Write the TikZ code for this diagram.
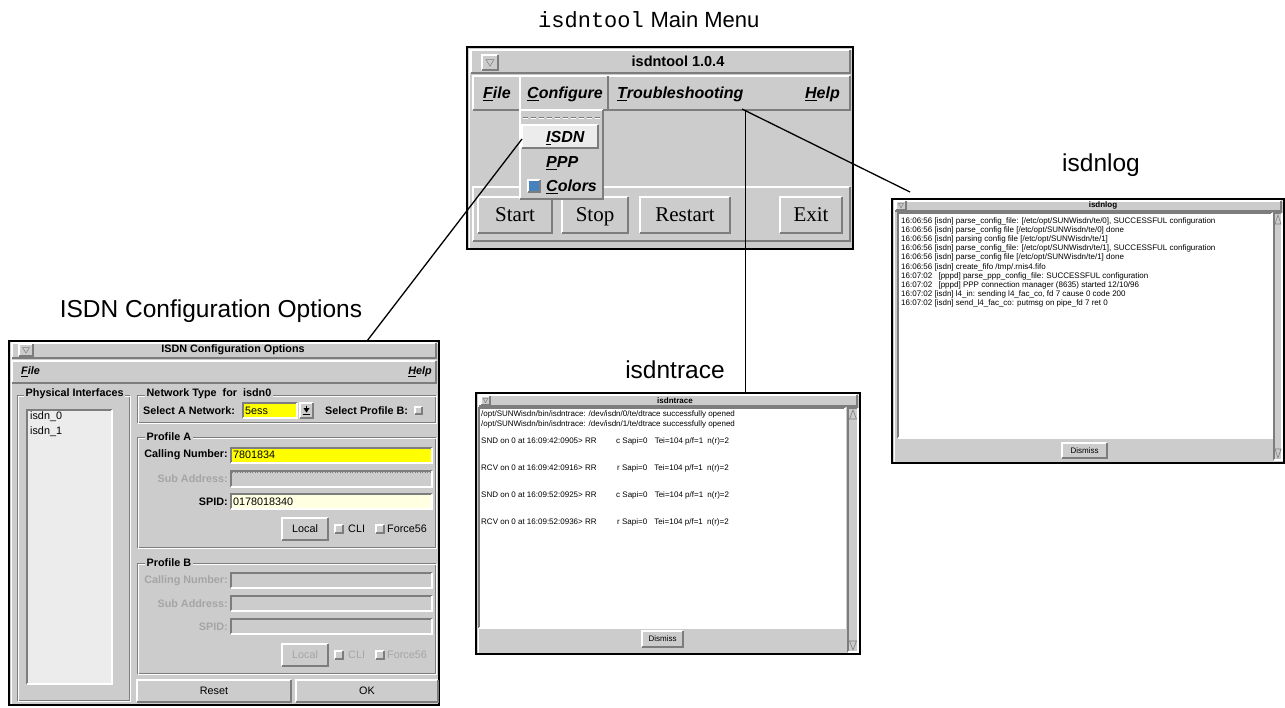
\documentclass[tikz,border=0pt]{standalone}
\usepackage{fontspec}
\setmainfont{Liberation Sans}
\newfontfamily\serifUI{Liberation Serif}
\newfontfamily\monoUI{Liberation Mono}
\usetikzlibrary{calc}
\definecolor{wingray}{RGB}{204,204,204}
\definecolor{bevdark}{RGB}{125,125,125}
\definecolor{listbg}{RGB}{236,236,236}
\definecolor{fieldyellow}{RGB}{255,255,0}
\definecolor{spidyellow}{RGB}{255,255,226}
\definecolor{distext}{RGB}{165,165,165}
\definecolor{checkblue}{RGB}{70,130,190}
\newcommand\pxsize[1]{\fontsize{#1}{#1}\selectfont}
\newcommand\raisedbox[5][wingray]{%
  \fill[#1] (#2,#3) rectangle (#4,#5);
  \draw[white,line width=1.2pt] (#2,#5) -- (#2,#3) -- (#4,#3);
  \draw[bevdark,line width=1.2pt] (#4,#3) -- (#4,#5) -- (#2,#5);}
\newcommand\sunkbox[5][wingray]{%
  \fill[#1] (#2,#3) rectangle (#4,#5);
  \draw[bevdark,line width=1.2pt] (#2,#5) -- (#2,#3) -- (#4,#3);
  \draw[white,line width=1.2pt] (#4,#3) -- (#4,#5) -- (#2,#5);}
\newcommand\etchbox[4]{%
  \draw[bevdark,line width=0.7pt] (#1,#2) rectangle (#3,#4);
  \draw[white,line width=0.7pt,shift={(1,1)}] (#1,#2) rectangle (#3,#4);}
\newcommand\winframe[4]{%
  \fill[wingray] (#1,#2) rectangle (#3,#4);
  \draw[white,line width=0.8pt,shift={(2,2)}] (#1,#4) -- (#1,#2) -- (#3,#2);
  \draw[black,line width=1.6pt] (#1,#2) rectangle (#3,#4);}
\newcommand\tribtn[4]{%
  \raisedbox{#1}{#2}{#3}{#4}%
  \draw[bevdark,line width=0.5pt] ($(#1,#2)+(0.25*#3-0.25*#1,0.3*#4-0.3*#2)$) -- ($(#1,#2)+(0.75*#3-0.75*#1,0.3*#4-0.3*#2)$) -- ($(#1,#2)+(0.5*#3-0.5*#1,0.75*#4-0.75*#2)$) -- cycle;}
\tikzset{
  lbl/.style={inner sep=0pt, font=\pxsize{24.5}},
  menuitem/.style={inner sep=0pt, font=\bfseries\itshape\pxsize{16}},
  serifbtn/.style={inner sep=0pt, anchor=base, font=\serifUI\pxsize{21}},
  uibold/.style={inner sep=0pt, font=\bfseries\pxsize{10.8}},
  uitext/.style={inner sep=0pt, font=\pxsize{10.8}},
  uidis/.style={inner sep=0pt, font=\bfseries\pxsize{10.8}, text=distext},
  grplbl/.style={inner sep=1.5pt, fill=wingray, font=\bfseries\pxsize{10.8}},
  small/.style={inner sep=0pt, font=\pxsize{8}},
  smallbold/.style={inner sep=0pt, font=\bfseries\pxsize{8}},
  conn/.style={black, line width=1.3pt}
}
\begin{document}
\begin{tikzpicture}[x=1pt,y=-1pt]
\useasboundingbox[fill=white] (0,0) rectangle (1285,707);

% ---------- labels ----------
\node[lbl, anchor=west] (mainlbl) at (538,20) {{\monoUI\pxsize{22}isdntool} {\pxsize{22}Main Menu}};
\node[lbl] (cfglbl) at (211,311) {ISDN Configuration Options};
\node[lbl] (tracelbl) at (675,370) {isdntrace};
\node[lbl] (loglbl) at (1101,165) {isdnlog};

% ---------- main window ----------
\winframe{467}{47}{853}{249}
\raisedbox{471}{50}{850}{73}
\tribtn{482}{55}{498}{70}
\node[inner sep=0pt, font=\bfseries\pxsize{14.5}] (maintitle) at (678,61) {isdntool 1.0.4};
\raisedbox{473}{76}{850}{110}
\raisedbox{520}{76}{608}{110}
\node[menuitem, anchor=base west] (mfile) at (483,98.5) {\underline{F}ile};
\node[menuitem, anchor=base west] (mconf) at (527,98.5) {\underline{C}onfigure};
\node[menuitem, anchor=base west] (mtrouble) at (617,98.5) {\underline{T}roubleshooting};
\node[menuitem, anchor=base east] (mhelp) at (840,98.5) {\underline{H}elp};
\raisedbox{473}{187}{850}{241}
\raisedbox{478}{197}{552}{233}
\raisedbox{562}{197}{628}{233}
\raisedbox{640}{197}{730}{233}
\raisedbox{780}{197}{842}{233}
\node[serifbtn] (bstart) at (515,221) {Start};
\node[serifbtn] (bstop) at (595,221) {Stop};
\node[serifbtn] (brestart) at (685,221) {Restart};
\node[serifbtn] (bexit) at (811,221) {Exit};
% dropdown
\raisedbox{520}{110}{603}{199}
\draw[bevdark, line width=1pt, dash pattern=on 5pt off 3pt] (523,117) -- (600,117);
\draw[white, line width=1pt, dash pattern=on 5pt off 3pt] (523,118.5) -- (600,118.5);
\raisedbox[listbg]{522}{125}{598}{148}
\node[menuitem, anchor=base west] (iisdn) at (546,142.5) {\underline{I}SDN};
\node[menuitem, anchor=base west] (ippp) at (546,167.5) {\underline{P}PP};
\raisedbox[checkblue]{528}{180}{540}{192}
\node[menuitem, anchor=base west] (icolors) at (546,191.5) {\underline{C}olors};

% ---------- ISDN Configuration Options window ----------
\winframe{9}{341}{439}{705}
\raisedbox{12}{343}{436}{358}
\tribtn{19}{344}{33}{356}
\node[uibold] (cfgtitle) at (233,350) {ISDN Configuration Options};
\raisedbox{12}{361}{436}{383}
\node[uibold, font=\bfseries\itshape\pxsize{10.8}, anchor=west] (cfile) at (21,372) {\underline{F}ile};
\node[uibold, font=\bfseries\itshape\pxsize{10.8}, anchor=east] (chelp) at (432,372) {\underline{H}elp};
% physical interfaces
\etchbox{17}{395}{129}{700}
\node[grplbl, anchor=west] (phys) at (24,394) {Physical Interfaces};
\sunkbox[listbg]{27}{410}{112}{684}
\node[uitext, anchor=west] (if0) at (30,417) {isdn\_0};
\node[uitext, anchor=west] (if1) at (30,432) {isdn\_1};
% network type
\etchbox{137}{395}{435}{422}
\node[grplbl, anchor=west] (nettype) at (145,394) {Network Type\ \ for\ \ isdn0};
\node[uibold, anchor=west] (selnet) at (143,411) {Select A Network:};
\sunkbox[fieldyellow]{243}{403}{297}{418}
\node[uitext, anchor=west] (v5ess) at (245,411) {5ess};
\raisedbox{300}{403}{313}{418}
\fill[black] (303.5,408) -- (309.5,408) -- (306.5,412.5) -- cycle;
\draw[black, line width=1pt] (306.5,405.5) -- (306.5,409);
\draw[black, line width=1pt] (303,414.5) -- (310,414.5);
\node[uibold, anchor=west] (selprof) at (325,411) {Select Profile B:};
\raisedbox{415}{407}{422}{414}
% profile A
\etchbox{137}{437}{435}{547}
\node[grplbl, anchor=west] (profa) at (145,437) {Profile A};
\node[uibold, anchor=east] (acall) at (228,455) {Calling Number:};
\sunkbox[fieldyellow]{231}{448}{432}{463}
\node[uitext, anchor=west] (acallv) at (233,455) {7801834};
\node[uidis, anchor=east] (asub) at (228,479) {Sub Address:};
\sunkbox{231}{471}{432}{487}
\draw[bevdark, line width=0.5pt, dotted] (232,472) -- (431,472);
\node[uibold, anchor=east] (aspid) at (228,502) {SPID:};
\sunkbox[spidyellow]{231}{494}{432}{509}
\node[uitext, anchor=west] (aspidv) at (233,502) {0178018340};
\raisedbox{282}{518}{328}{540}
\node[uitext] (alocal) at (305,529) {Local};
\raisedbox{335}{525}{343}{533}
\node[uitext, anchor=west] (acli) at (348,529) {CLI};
\raisedbox{376}{525}{384}{533}
\node[uitext, anchor=west] (aforce) at (387,529) {Force56};
% profile B
\etchbox{137}{563}{435}{673}
\node[grplbl, anchor=west] (profb) at (145,563) {Profile B};
\node[uidis, anchor=east] (bcall) at (228,581) {Calling Number:};
\sunkbox{231}{573}{432}{588}
\node[uidis, anchor=east] (bsub) at (228,604) {Sub Address:};
\sunkbox{231}{596}{432}{611}
\node[uidis, anchor=east] (bspid) at (228,627) {SPID:};
\sunkbox{231}{619}{432}{634}
\raisedbox{282}{644}{328}{666}
\node[uitext, text=distext] (blocal) at (305,655) {Local};
\raisedbox{335}{651}{343}{659}
\node[uitext, text=distext, anchor=west] (bcli) at (348,655) {CLI};
\raisedbox{376}{651}{384}{659}
\node[uitext, text=distext, anchor=west] (bforce) at (387,655) {Force56};
% buttons
\raisedbox{137}{680}{291}{702}
\node[uitext] (breset) at (214,691) {Reset};
\raisedbox{296}{680}{438}{702}
\node[uitext] (bok) at (367,691) {OK};

% ---------- isdntrace window ----------
\winframe{476}{393}{860}{654}
\raisedbox{479}{395}{857}{406}
\tribtn{481}{396}{490}{405}
\node[smallbold] (tracetitle) at (675,400.5) {isdntrace};
\sunkbox[white]{479}{408}{845}{628}
\sunkbox{848}{408}{858}{652}
\draw[bevdark, line width=0.6pt] (849.5,419) -- (853,410) -- (856.5,419) -- cycle;
\draw[bevdark, line width=0.6pt] (849.5,641) -- (856.5,641) -- (853,650) -- cycle;
\raisedbox{642}{631}{683}{647}
\node[small] (tracedismiss) at (662.5,639) {Dismiss};
\node[small, anchor=west] (t1) at (481,414) {/opt/SUNWisdn/bin/isdntrace: /dev/isdn/0/te/dtrace successfully opened};
\node[small, anchor=west] (t2) at (481,424) {/opt/SUNWisdn/bin/isdntrace: /dev/isdn/1/te/dtrace successfully opened};
\node[small, anchor=west] (t3) at (481,441) {SND on 0 at 16:09:42:0905> RR};
\node[small, anchor=west] (t3b) at (616,441) {c Sapi=0\hspace{5pt} Tei=104 p/f=1\hspace{2pt} n(r)=2};
\node[small, anchor=west] (t4) at (481,468) {RCV on 0 at 16:09:42:0916> RR};
\node[small, anchor=west] (t4b) at (617,468) {r Sapi=0\hspace{5pt} Tei=104 p/f=1\hspace{2pt} n(r)=2};
\node[small, anchor=west] (t5) at (481,495) {SND on 0 at 16:09:52:0925> RR};
\node[small, anchor=west] (t5b) at (616,495) {c Sapi=0\hspace{5pt} Tei=104 p/f=1\hspace{2pt} n(r)=2};
\node[small, anchor=west] (t6) at (481,522) {RCV on 0 at 16:09:52:0936> RR};
\node[small, anchor=west] (t6b) at (617,522) {r Sapi=0\hspace{5pt} Tei=104 p/f=1\hspace{2pt} n(r)=2};

% ---------- isdnlog window ----------
\winframe{892}{199}{1284}{463}
\raisedbox{895}{201}{1281}{211}
\tribtn{896}{201}{906}{210}
\node[smallbold] (logtitle) at (1103,205.5) {isdnlog};
\sunkbox[white]{898}{213}{1272}{438}
\sunkbox{1274}{213}{1282}{460}
\draw[bevdark, line width=0.6pt] (1275,224) -- (1278,215) -- (1281,224) -- cycle;
\draw[bevdark, line width=0.6pt] (1275,449) -- (1281,449) -- (1278,458) -- cycle;
\raisedbox{1062}{443}{1107}{458}
\node[small] (logdismiss) at (1084.5,450.5) {Dismiss};
\node[small, anchor=west] (l1) at (901,221) {16:06:56 [isdn] parse\_config\_file: [/etc/opt/SUNWisdn/te/0], SUCCESSFUL configuration};
\node[small, anchor=west] (l2) at (901,230.2) {16:06:56 [isdn] parse\_config file [/etc/opt/SUNWisdn/te/0] done};
\node[small, anchor=west] (l3) at (901,239.4) {16:06:56 [isdn] parsing config file [/etc/opt/SUNWisdn/te/1]};
\node[small, anchor=west] (l4) at (901,248.6) {16:06:56 [isdn] parse\_config\_file: [/etc/opt/SUNWisdn/te/1], SUCCESSFUL configuration};
\node[small, anchor=west] (l5) at (901,257.8) {16:06:56 [isdn] parse\_config file [/etc/opt/SUNWisdn/te/1] done};
\node[small, anchor=west] (l6) at (901,267) {16:06:56 [isdn] create\_fifo /tmp/.rnis4.fifo};
\node[small, anchor=west] (l7) at (901,276.2) {16:07:02\hspace{4pt} [pppd] parse\_ppp\_config\_file: SUCCESSFUL configuration};
\node[small, anchor=west] (l8) at (901,285.4) {16:07:02\hspace{4pt} [pppd] PPP connection manager (8635) started 12/10/96};
\node[small, anchor=west] (l9) at (901,294.6) {16:07:02 [isdn] l4\_in: sending l4\_fac\_co, fd 7 cause 0 code 200};
\node[small, anchor=west] (l10) at (901,303.8) {16:07:02 [isdn] send\_l4\_fac\_co: putmsg on pipe\_fd 7 ret 0};

% ---------- connectors ----------
\coordinate (isdnA) at (522,139);
\coordinate (cfgB) at (367,341);
\coordinate (troubA) at (742,109);
\coordinate (logB) at (910,192);
\coordinate (troubV) at (745.5,110);
\coordinate (traceB) at (745.5,392);
\draw[conn] (isdnA) -- (cfgB);
\draw[conn] (troubA) -- (logB);
\draw[conn] (troubV) -- (traceB);
\end{tikzpicture}
\end{document}
